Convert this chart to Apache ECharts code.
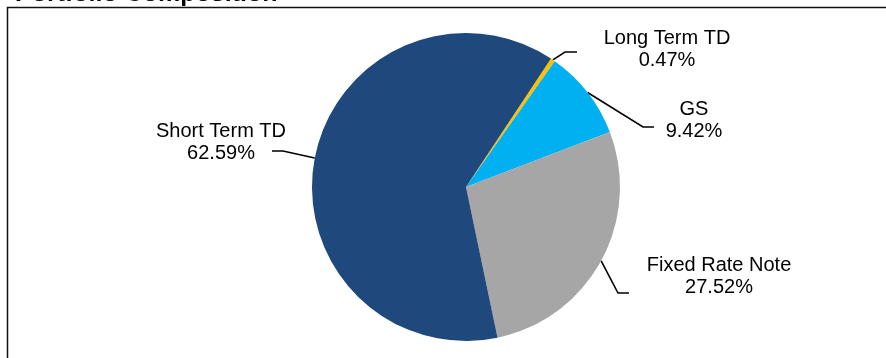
<!DOCTYPE html>
<html>
<head>
<meta charset="utf-8">
<script src="https://cdn.jsdelivr.net/npm/echarts@6/dist/echarts.min.js"></script>
<style>
html,body{margin:0;padding:0;background:#fff;}
#chart{width:886px;height:358px;}
</style>
</head>
<body>
<div id="chart"></div>
<script>
// ---- data ----
const categories = ['Long Term TD', 'GS', 'Fixed Rate Note', 'Short Term TD'];
const values = [0.47, 9.42, 27.52, 62.59];
const titleText = 'Portfolio Composition';

// ---- style / layout ----
const colors = ['#FFC000', '#00B0F0', '#A6A6A6', '#1F497D'];
const labelAnchors = [
  { x: 667, y: 49, bend: [565, 52], end: [577, 52] },
  { x: 694, y: 120, bend: [643, 127], end: [654, 127] },
  { x: 719, y: 276, bend: [618, 293], end: [629, 293] },
  { x: 221, y: 142, bend: [283, 151], end: [272, 151] }
];
const pieCenter = [466, 187];
const pieRadius = 154;
const startAngle = 56.5;
const fontFamily = '"Liberation Sans", Arial, sans-serif';

const chart = echarts.init(document.getElementById('chart'), null, { renderer: 'canvas' });

const total = values.reduce((a, b) => a + b, 0);
function edgePoint(i) {
  let before = 0;
  for (let k = 0; k < i; k++) before += values[k];
  const mid = before + values[i] / 2;
  const ang = (startAngle - mid / total * 360) * Math.PI / 180;
  return [pieCenter[0] + pieRadius * Math.cos(ang), pieCenter[1] - pieRadius * Math.sin(ang)];
}

chart.setOption({
  animation: false,
  backgroundColor: '#ffffff',
  graphic: [
    {
      type: 'text', left: 15, top: -18, z: 0,
      style: { text: titleText, font: 'bold 25px ' + fontFamily, fill: '#000' }
    },
    {
      type: 'rect', z: 1,
      shape: { x: 7.5, y: 7.5, width: 900, height: 400 },
      style: { fill: '#ffffff', stroke: '#111111', lineWidth: 1.5 }
    }
  ],
  series: [{
    type: 'pie',
    z: 5,
    center: pieCenter,
    radius: pieRadius,
    startAngle: startAngle,
    clockwise: true,
    avoidLabelOverlap: false,
    data: categories.map((c, i) => ({ name: c, value: values[i], itemStyle: { color: colors[i] } })),
    itemStyle: { borderWidth: 0 },
    label: {
      show: true,
      position: 'outside',
      formatter: p => p.name + '\n' + p.value.toFixed(2) + '%',
      fontFamily: fontFamily,
      fontSize: 20,
      lineHeight: 22,
      color: '#000',
      align: 'center'
    },
    labelLine: { show: true, lineStyle: { color: '#000', width: 1.6 } },
    emphasis: { disabled: true },
    labelLayout: function (params) {
      const i = params.dataIndex;
      const a = labelAnchors[i];
      const p0 = (params.labelLinePoints && params.labelLinePoints[0]) || edgePoint(i);
      return {
        x: a.x, y: a.y, align: 'center', verticalAlign: 'middle',
        labelLinePoints: [p0, a.bend, a.end]
      };
    }
  }]
});
</script>
</body>
</html>
